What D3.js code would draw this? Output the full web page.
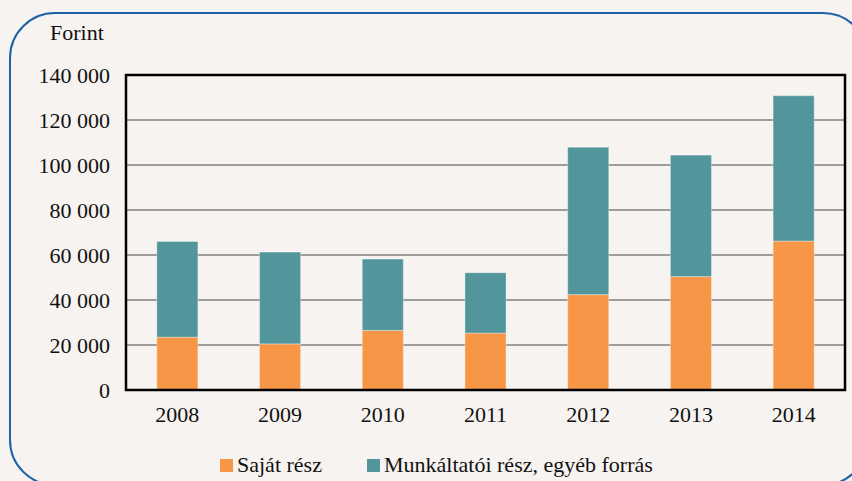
<!DOCTYPE html>
<html><head><meta charset="utf-8">
<script src="https://cdn.jsdelivr.net/npm/d3@7"></script>
<style>html,body{margin:0;padding:0;background:#f6f3f0;}svg{display:block;}</style>
</head><body>
<script>
const years = ["2008","2009","2010","2011","2012","2013","2014"];
const sajat = [23500, 20500, 26500, 25300, 42400, 50400, 66200];
const munkaltatoi = [42500, 40800, 31700, 26800, 65500, 54000, 64600];
const yTicks = [0,20000,40000,60000,80000,100000,120000,140000];
const seriesNames = ["Saját rész","Munkáltatói rész, egyéb forrás"];
const colors = ["#f79646","#52969b"];

const W=852,H=481;
const svg=d3.select("body").append("svg").attr("width",W).attr("height",H);
svg.append("rect").attr("width",W).attr("height",H).attr("fill","#f6f3f0");
svg.append("rect").attr("x",10).attr("y",13).attr("width",858).attr("height",472)
  .attr("rx",45).attr("ry",45).attr("fill","none").attr("stroke","#1f63a6").attr("stroke-width",2);

const L=126,R=845,T=75,B=390;
const x=d3.scaleBand().domain(years).range([L,R]).paddingInner(0.6).paddingOuter(0.3);
const y=d3.scaleLinear().domain([0,140000]).range([B,T]);
const font="'Liberation Serif', serif";
const fs=22;

svg.append("g").selectAll("line").data(yTicks.filter(d=>d>0&&d<140000)).join("line")
  .attr("x1",L).attr("x2",R).attr("y1",d=>y(d)).attr("y2",d=>y(d))
  .attr("stroke","#808080").attr("stroke-width",1.5);

const data=years.map((yr,i)=>({year:yr,sajat:sajat[i],munk:munkaltatoi[i]}));
const stack=d3.stack().keys(["sajat","munk"])(data);
svg.append("g").selectAll("g").data(stack).join("g").attr("fill",(d,i)=>colors[i])
  .selectAll("rect").data(d=>d).join("rect")
  .attr("x",d=>x(d.data.year)).attr("width",x.bandwidth())
  .attr("y",d=>y(d[1])).attr("height",d=>y(d[0])-y(d[1]))
  .attr("stroke","rgba(255,255,255,0.35)").attr("stroke-width",1);

svg.append("rect").attr("x",L).attr("y",T).attr("width",R-L).attr("height",B-T)
  .attr("fill","none").attr("stroke","#000").attr("stroke-width",2.5);

const fmt=d=>d3.format(",")(d).replace(/,/g," ");
const yAxis=d3.axisLeft(y).tickValues(yTicks).tickSize(0).tickPadding(16).tickFormat(fmt);
const gy=svg.append("g").attr("transform",`translate(${L},0)`).call(yAxis);
gy.select(".domain").remove();
gy.selectAll("text").attr("font-family",font).attr("font-size",fs).attr("fill","#111");

const xAxis=d3.axisBottom(x).tickSize(0).tickPadding(16);
const gx=svg.append("g").attr("transform",`translate(0,${B})`).call(xAxis);
gx.select(".domain").remove();
gx.selectAll("text").attr("font-family",font).attr("font-size",fs).attr("fill","#111");

svg.append("text").attr("x",50).attr("y",40).text("Forint")
  .attr("font-family",font).attr("font-size",fs).attr("fill","#111");

const leg=[{x:220},{x:367}];
seriesNames.forEach((n,i)=>{
  svg.append("rect").attr("x",leg[i].x).attr("y",459).attr("width",13).attr("height",13).attr("fill",colors[i]);
  svg.append("text").attr("x",leg[i].x+17).attr("y",472).text(n)
    .attr("font-family",font).attr("font-size",fs).attr("fill","#111");
});
</script>
</body></html>
